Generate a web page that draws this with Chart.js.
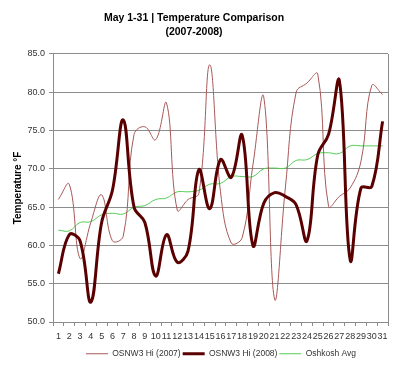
<!DOCTYPE html>
<html>
<head>
<meta charset="utf-8">
<script src="https://cdn.jsdelivr.net/npm/chart.js@4/dist/chart.umd.min.js"></script>
<style>
  html, body { margin: 0; padding: 0; background: #fff; }
  #wrap { width: 400px; height: 372px; position: relative; }
</style>
</head>
<body>
<div id="wrap"><canvas id="c" width="400" height="372"></canvas></div>
<script>
const days = ['1','2','3','4','5','6','7','8','9','10','11','12','13','14','15','16','17','18','19','20','21','22','23','24','25','26','27','28','29','30','31'];
const hi2007 = [66.0, 68.0, 58.3, 63.0, 66.6, 60.6, 61.2, 74.5, 75.5, 73.8, 78.6, 64.6, 66.0, 66.8, 83.6, 67.0, 60.3, 61.0, 70.5, 79.4, 53.0, 67.5, 80.0, 81.2, 82.4, 65.1, 66.4, 67.5, 71.0, 80.9, 79.7];
const hi2008 = [56.3, 61.4, 60.6, 52.6, 63.0, 67.2, 76.4, 65.0, 63.0, 56.0, 61.4, 57.8, 59.3, 69.9, 64.8, 71.2, 68.9, 74.4, 60.0, 65.5, 66.9, 66.4, 65.3, 60.6, 71.8, 74.5, 81.5, 58.1, 67.5, 67.7, 76.2];
const oshkoshAvg = [62.0, 61.9, 63.0, 63.1, 64.0, 64.2, 64.1, 65.0, 65.2, 66.0, 66.2, 67.0, 67.0, 67.2, 68.0, 68.1, 69.0, 69.0, 69.0, 70.0, 70.1, 70.1, 71.1, 71.2, 72.0, 72.1, 72.0, 73.0, 73.0, 73.0, 73.0];
const seriesNames = ['OSNW3 Hi (2007)', 'OSNW3 Hi (2008)', 'Oshkosh Avg'];
const titleLines = ['May 1-31 | Temperature Comparison', '(2007-2008)'];
const yAxisTitle = 'Temperature \u00B0F';

const FONT = "'Liberation Sans', Arial, sans-serif";

const frame = {
  id: 'frame',
  afterLayout(chart) {
    if (chart.legend) {
      chart.legend.left += 27;
      chart.legend.right += 27;
    }
  },
  afterDraw(chart) {
    const a = chart.chartArea, ctx = chart.ctx;
    ctx.save();
    ctx.strokeStyle = '#8c8c8c';
    ctx.lineWidth = 1;
    ctx.beginPath();
    ctx.moveTo(Math.round(a.right) + 0.5, a.top);
    ctx.lineTo(Math.round(a.right) + 0.5, a.bottom);
    ctx.stroke();
    ctx.restore();
  }
};

new Chart(document.getElementById('c'), {
  type: 'line',
  data: {
    labels: days,
    datasets: [
      { label: seriesNames[0], data: hi2007, borderColor: '#a85858', backgroundColor: '#a85858', borderWidth: 1, pointRadius: 0, tension: 0.4, order: 1 },
      { label: seriesNames[1], data: hi2008, borderColor: '#5a0000', backgroundColor: '#5a0000', borderWidth: 3, pointRadius: 0, tension: 0.4, order: 0 },
      { label: seriesNames[2], data: oshkoshAvg, borderColor: '#55cc55', backgroundColor: '#55cc55', borderWidth: 1, pointRadius: 0, tension: 0.4, order: 2 }
    ]
  },
  options: {
    responsive: false,
    animation: false,
    devicePixelRatio: 1,
    layout: { padding: { left: 0, right: 12, top: 0, bottom: 4 } },
    plugins: {
      tooltip: { enabled: false },
      title: {
        display: true,
        text: titleLines,
        color: '#000',
        font: { family: FONT, size: 10.5, weight: 'bold', lineHeight: 1.333 },
        padding: { top: 11, bottom: 15 }
      },
      legend: {
        position: 'bottom',
        labels: {
          usePointStyle: true,
          pointStyle: 'line',
          pointStyleWidth: 22,
          boxWidth: 22,
          padding: 2,
          color: '#333',
          font: { family: FONT, size: 8.5 },
          sort: (a, b) => a.datasetIndex - b.datasetIndex
        }
      }
    },
    scales: {
      x: {
        type: 'category',
        offset: true,
        afterFit(s) { s.height = 25.5; },
        grid: { drawOnChartArea: false, drawTicks: true, tickLength: 4, offset: true, color: '#8c8c8c' },
        border: { display: true, color: '#8c8c8c' },
        ticks: { autoSkip: false, maxRotation: 0, minRotation: 0, padding: 5, color: '#333', font: { family: FONT, size: 9 } }
      },
      y: {
        min: 50, max: 85,
        afterFit(s) { s.width = 53; },
        grid: { color: '#8c8c8c', tickLength: 4 },
        border: { display: true, color: '#8c8c8c' },
        ticks: { stepSize: 5, padding: 4, color: '#333', font: { family: FONT, size: 9 }, callback: v => Number(v).toFixed(1) },
        title: { display: true, text: yAxisTitle, color: '#000', font: { family: FONT, size: 10, weight: 'bold' }, padding: { top: 12, bottom: 0 } }
      }
    }
  },
  plugins: [frame]
});
</script>
</body>
</html>
